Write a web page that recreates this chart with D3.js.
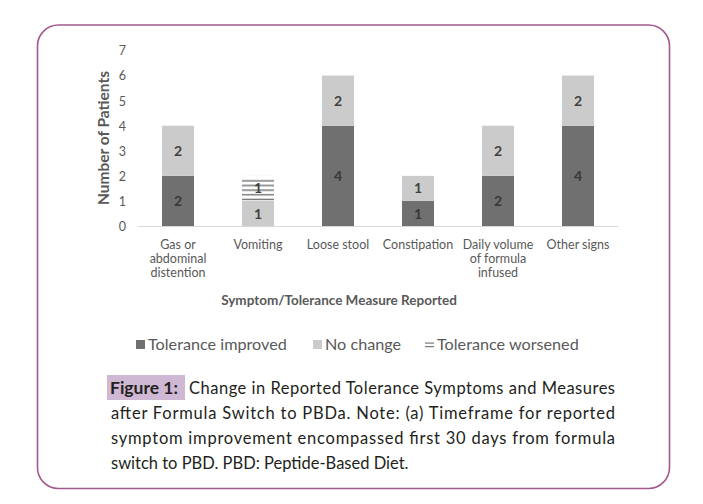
<!DOCTYPE html>
<html><head><meta charset="utf-8">
<script src="https://cdn.jsdelivr.net/npm/d3@7"></script>
<style>body{margin:0;background:#fff}svg{display:block}</style>
</head><body>
<svg id="chart" width="703" height="504"></svg>
<script>
const categories = ["Gas or abdominal distention","Vomiting","Loose stool","Constipation","Daily volume of formula infused","Other signs"];
const categoryLines = [["Gas or","abdominal","distention"],["Vomiting"],["Loose stool"],["Constipation"],["Daily volume","of formula","infused"],["Other signs"]];
const improved = [2,0,4,1,2,4];
const noChange = [2,1,2,1,2,2];
const worsened = [0,1,0,0,0,0];
const seriesNames = ["Tolerance improved","No change","Tolerance worsened"];
const yTicks = [0,1,2,3,4,5,6,7];
const captionLines = ["Change in Reported Tolerance Symptoms and Measures","after Formula Switch to PBDa. Note: (a) Timeframe for reported","symptom improvement encompassed first 30 days from formula","switch to PBD. PBD: Peptide-Based Diet."];

const svg = d3.select("#chart");
const font = "Lato, 'Open Sans', sans-serif";
const axisCol = "#595959";
const colors = ["#707070","#cbcbcb","#ffffff"];

// frame
svg.append("rect").attr("x",37.5).attr("y",25).attr("width",632).attr("height",463.5)
  .attr("rx",21).attr("fill","none").attr("stroke","#a4588e").attr("stroke-width",1.6);

const defs = svg.append("defs");
const pat = defs.append("pattern").attr("id","hatch").attr("patternUnits","objectBoundingBox")
  .attr("patternContentUnits","objectBoundingBox").attr("width",1).attr("height",1);
pat.append("rect").attr("x",0).attr("y",0).attr("width",1).attr("height",1).attr("fill","#fff");
[0.2,0.385,0.57,0.755,0.94].forEach(f=>{
  pat.append("rect").attr("x",0).attr("y",f-0.03).attr("width",1).attr("height",0.06).attr("fill","#7a7a7a");
});

const x = d3.scaleBand().domain(categories).range([138,618]).paddingInner(0.6).paddingOuter(0.3);
const y = d3.scaleLinear().domain([0,7]).range([226,50.5]);

const data = categories.map((c,i)=>({cat:c, v:[improved[i],noChange[i],worsened[i]]}));
const stack = d3.stack().keys([0,1,2]).value((d,k)=>d.v[k]);
const layers = stack(data);

// y tick labels
const yAxis = svg.append("g").attr("transform","translate(126,0)")
  .call(d3.axisLeft(y).tickValues(yTicks).tickSize(0).tickPadding(0).tickFormat(d3.format("d")));
yAxis.select(".domain").remove();
yAxis.selectAll("text").attr("font-family",font).attr("font-size",12.5).attr("fill",axisCol).attr("dy","0.35em");

// bars
layers.forEach((layer,k)=>{
  svg.append("g").selectAll("rect").data(layer.filter(d=>d[1]-d[0]>0)).join("rect")
    .attr("x",d=>x(d.data.cat)).attr("width",x.bandwidth())
    .attr("y",d=>y(d[1])).attr("height",d=>y(d[0])-y(d[1]))
    .attr("fill",k===2?"url(#hatch)":colors[k]);
  svg.append("g").selectAll("text").data(layer.filter(d=>d[1]-d[0]>0)).join("text")
    .attr("x",d=>x(d.data.cat)+x.bandwidth()/2).attr("y",d=>y((d[0]+d[1])/2))
    .attr("dy","0.36em").attr("text-anchor","middle")
    .attr("font-family",font).attr("font-size",14).attr("font-weight","bold")
    .attr("fill",k===0?"#383838":"#404040").text(d=>d[1]-d[0]);
});

// x axis
const xAxis = svg.append("g").attr("transform","translate(0,226)")
  .call(d3.axisBottom(x).tickSize(0).tickFormat(""));
xAxis.select(".domain").attr("stroke","#d9d9d9").attr("stroke-width",1);
xAxis.selectAll(".tick").each(function(d,i){
  const t = d3.select(this).append("text").attr("fill",axisCol).attr("font-family",font)
    .attr("font-size",12.5).attr("text-anchor","middle");
  categoryLines[i].forEach((ln,j)=>t.append("tspan").attr("x",0).attr("y",23+j*14.2).text(ln));
});

// axis titles
svg.append("text").attr("transform","translate(109,138) rotate(-90)").attr("text-anchor","middle")
  .attr("font-family",font).attr("font-size",15.5).attr("font-weight","bold").attr("fill",axisCol)
  .text("Number of Patients");
svg.append("text").attr("x",339).attr("y",305).attr("text-anchor","middle")
  .attr("font-family",font).attr("font-size",13.5).attr("font-weight","bold").attr("fill",axisCol)
  .text("Symptom/Tolerance Measure Reported");

// legend
const legX = [136,313,425];
seriesNames.forEach((n,k)=>{
  const g = svg.append("g").attr("transform",`translate(${legX[k]},340)`);
  if(k<2){
    g.append("rect").attr("width",9).attr("height",9).attr("fill",colors[k]);
  } else {
    g.append("rect").attr("x",0).attr("y",2.5).attr("width",9).attr("height",1.2).attr("fill","#7a7a7a");
    g.append("rect").attr("x",0).attr("y",6).attr("width",9).attr("height",1.2).attr("fill","#7a7a7a");
  }
  g.append("text").attr("x",12).attr("y",4.5).attr("dy","0.36em")
    .attr("font-family",font).attr("font-size",16.2).attr("fill",axisCol).text(n);
});

// caption
svg.append("rect").attr("x",107).attr("y",375).attr("width",78).attr("height",25).attr("fill","#cfb8d3");
const capFont = font;
svg.append("text").attr("x",110).attr("y",394).attr("font-family",capFont).attr("font-size",17.5)
  .attr("font-weight","bold").attr("fill","#231f20").text("Figure 1:");
const capX = [189,111,111,111];
const capY = [394,419,444,469];
captionLines.forEach((ln,i)=>{
  const t = svg.append("text").attr("x",capX[i]).attr("y",capY[i]).attr("font-family",capFont)
    .attr("font-size",16.5).attr("fill","#231f20").text(ln);
  if(i<3) t.attr("textLength",615-capX[i]).attr("lengthAdjust","spacing");
});
</script>
</body></html>
